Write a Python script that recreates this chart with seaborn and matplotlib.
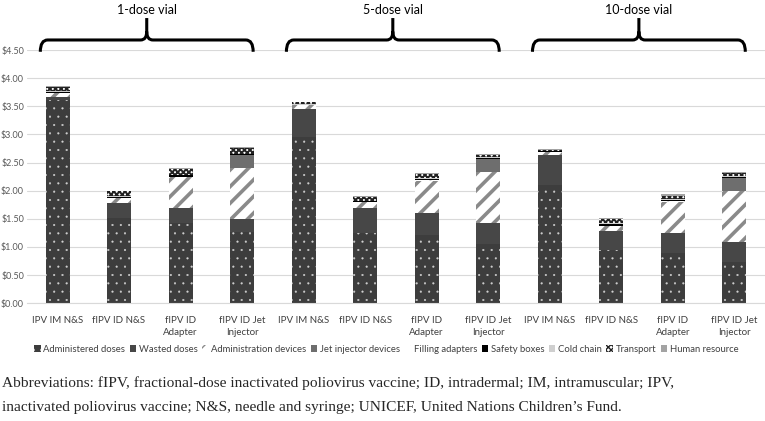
import numpy as np
import pandas as pd
import matplotlib.pyplot as plt
import seaborn as sns
from matplotlib.patches import Patch, PathPatch
from matplotlib.path import Path
from matplotlib.ticker import FuncFormatter

# groups and strategies (12 bars, 4 per vial size)
groups = ["1-dose vial", "5-dose vial", "10-dose vial"]
strategies = ["IPV IM N&S", "fIPV ID N&S", "fIPV ID\nAdapter", "fIPV ID Jet\nInjector"]

# cost per component, USD per child
administered = [3.62, 1.51, 1.42, 1.26, 2.95, 1.25, 1.22, 1.06, 2.10, 0.95, 0.89, 0.73]
wasted       = [0.05, 0.27, 0.27, 0.23, 0.51, 0.44, 0.39, 0.36, 0.53, 0.33, 0.35, 0.36]
admin_dev    = [0.07, 0.09, 0.55, 0.91, 0.06, 0.10, 0.57, 0.91, 0.06, 0.10, 0.56, 0.91]
jet_dev      = [0.00, 0.00, 0.00, 0.23, 0.00, 0.00, 0.00, 0.23, 0.00, 0.00, 0.00, 0.22]
filling      = [0.00, 0.00, 0.01, 0.00, 0.00, 0.00, 0.01, 0.00, 0.00, 0.00, 0.01, 0.00]
safety       = [0.02, 0.02, 0.02, 0.02, 0.01, 0.02, 0.02, 0.02, 0.01, 0.02, 0.02, 0.02]
cold_chain   = [0.01, 0.01, 0.01, 0.01, 0.01, 0.01, 0.01, 0.01, 0.01, 0.03, 0.02, 0.02]
transport    = [0.08, 0.09, 0.10, 0.10, 0.03, 0.06, 0.07, 0.05, 0.02, 0.06, 0.06, 0.05]
human_res    = [0.01, 0.01, 0.02, 0.02, 0.01, 0.02, 0.02, 0.02, 0.01, 0.03, 0.03, 0.02]

components = ["Administered doses", "Wasted doses", "Administration devices",
              "Jet injector devices", "Filling adapters", "Safety boxes",
              "Cold chain", "Transport", "Human resource"]
values = [administered, wasted, admin_dev, jet_dev, filling, safety,
          cold_chain, transport, human_res]

styles = {
    "Administered doses":     dict(color="#3d3d3d", hatch="..",     edgecolor="#d0d0d0", hlw=0.3),
    "Wasted doses":           dict(color="#474747", hatch=None,     edgecolor="#474747", hlw=1.0),
    "Administration devices": dict(color="white",   hatch="//",     edgecolor="#8a8a8a", hlw=2.6),
    "Jet injector devices":   dict(color="#6e6e6e", hatch=None,     edgecolor="#6e6e6e", hlw=1.0),
    "Filling adapters":       dict(color="white",   hatch="\\\\",   edgecolor="#d5d5d5", hlw=1.0),
    "Safety boxes":           dict(color="black",   hatch=None,     edgecolor="black",   hlw=1.0),
    "Cold chain":             dict(color="#cfcfcf", hatch=None,     edgecolor="#cfcfcf", hlw=1.0),
    "Transport":              dict(color="white",   hatch="xxxxxx", edgecolor="#222222", hlw=1.4),
    "Human resource":         dict(color="#a3a3a3", hatch=None,     edgecolor="#a3a3a3", hlw=1.0),
}

bar_ids = [f"{g}|{s}" for g in groups for s in strategies]
tick_labels = [s for g in groups for s in strategies]

sns.set_style("white")
plt.rcParams["font.family"] = ["Lato", "DejaVu Sans"]

fig = plt.figure(figsize=(7.65, 4.21), dpi=100)
ax = fig.add_axes([0.035, 0.28, 0.965, 0.601])

bottom = np.zeros(len(bar_ids))
for name, vals in zip(components, values):
    st = styles[name]
    df = pd.DataFrame({"bar": bar_ids, "cost": vals})
    sns.barplot(data=df, x="bar", y="cost", order=bar_ids, bottom=bottom,
                color=st["color"], saturation=1, hatch=st["hatch"],
                edgecolor=st["edgecolor"], linewidth=0, width=0.39,
                hatch_linewidth=st["hlw"], errorbar=None, ax=ax)
    bottom = bottom + np.array(vals)

ax.set_xlim(-0.5, len(bar_ids) - 0.5)
ax.set_ylim(0, 4.5)
ax.set_yticks(np.arange(0, 4.51, 0.5))
ax.yaxis.set_major_formatter(FuncFormatter(lambda v, p: f"${v:.2f}"))
ax.set_xticks(range(len(bar_ids)))
ax.set_xticklabels(tick_labels, fontsize=7, color="#404040", linespacing=1.5)
ax.tick_params(axis="x", length=0, pad=9)
ax.tick_params(axis="y", length=0, pad=2, labelsize=6.5, labelcolor="#595959")
ax.set_xlabel("")
ax.set_ylabel("")
ax.yaxis.grid(True, color="#d9d9d9", lw=0.8)
ax.set_axisbelow(True)
sns.despine(ax=ax, left=True, bottom=True)
ax.spines["bottom"].set_visible(True)
ax.spines["bottom"].set_color("#d9d9d9")


def draw_brace(ax, x0, x1, label):
    xm = (x0 + x1) / 2
    yb, yl, yt = 4.47, 4.68, 5.07
    verts = [(x0, yb), (x0, yl), (x0 + 0.12, yl),
             (xm - 0.1, yl), (xm, yl), (xm, yl + 0.15),
             (xm, yt), (xm, yl + 0.15),
             (xm, yl), (xm + 0.1, yl),
             (x1 - 0.12, yl), (x1, yl), (x1, yb)]
    codes = [Path.MOVETO, Path.CURVE3, Path.CURVE3,
             Path.LINETO, Path.CURVE3, Path.CURVE3,
             Path.LINETO, Path.MOVETO,
             Path.CURVE3, Path.CURVE3,
             Path.LINETO, Path.CURVE3, Path.CURVE3]
    ax.add_patch(PathPatch(Path(verts, codes), fill=False, lw=2.2,
                           edgecolor="black", clip_on=False, capstyle="butt"))
    ax.text(xm, 5.22, label, ha="center", va="center", fontsize=9,
            color="black", clip_on=False)


for gi, g in enumerate(groups):
    draw_brace(ax, gi * 4 - 0.28, gi * 4 + 3 + 0.18, g)

handles = []
for name in components:
    st = styles[name]
    handles.append(Patch(facecolor=st["color"], hatch=st["hatch"],
                         edgecolor=st["edgecolor"], linewidth=0, label=name))
fig.legend(handles=handles, loc="center", bbox_to_anchor=(0.505, 0.170),
           ncol=9, frameon=False, fontsize=6.8, handlelength=0.7,
           handleheight=0.7, handletextpad=0.3, columnspacing=0.45,
           labelcolor="#404040")

fig.text(0.003, 1 - 383 / 421,
         "Abbreviations: fIPV, fractional-dose inactivated poliovirus vaccine; "
         "ID, intradermal; IM, intramuscular; IPV,",
         family="Liberation Serif", fontsize=11.1, va="center", ha="left")
fig.text(0.003, 1 - 407 / 421,
         "inactivated poliovirus vaccine; N&S, needle and syringe; UNICEF, "
         "United Nations Children\u2019s Fund.",
         family="Liberation Serif", fontsize=11.1, va="center", ha="left")

fig.savefig("out.png", dpi=100)
